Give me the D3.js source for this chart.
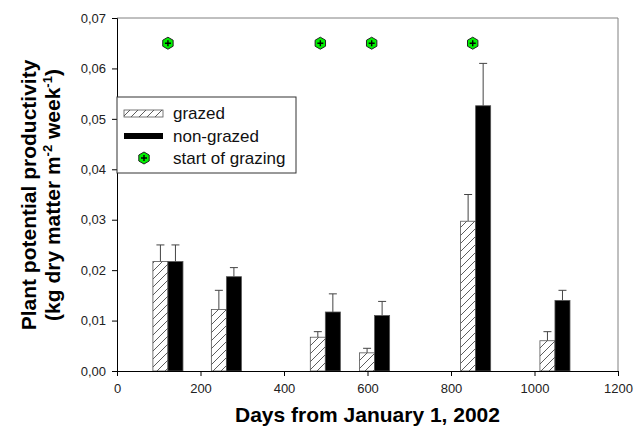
<!DOCTYPE html>
<html>
<head>
<meta charset="utf-8">
<script src="https://cdn.jsdelivr.net/npm/d3@7"></script>
<style>
  body { margin: 0; background: #fff; }
  text { font-family: "Liberation Sans", Arial, sans-serif; }
</style>
</head>
<body>
<div id="chart"></div>
<script>
// Data
const days = [122, 262, 499, 617, 859, 1049];
const grazed = [0.0217, 0.0122, 0.0067, 0.0036, 0.0297, 0.0060];
const grazedErr = [0.0033, 0.0038, 0.0011, 0.0009, 0.0053, 0.0018];
const nonGrazed = [0.0217, 0.0187, 0.0117, 0.0110, 0.0526, 0.0140];
const nonGrazedErr = [0.0033, 0.0018, 0.0036, 0.0028, 0.0084, 0.0020];
const grazingStart = [122, 487, 610, 852];
const grazingY = 0.065;
const xTicks = [0, 200, 400, 600, 800, 1000, 1200];
const yTicks = [0, 0.01, 0.02, 0.03, 0.04, 0.05, 0.06, 0.07];

const width = 635, height = 427;
const margin = {top: 18, right: 17, bottom: 56, left: 117};
const barDays = 36;

const svg = d3.select("#chart")
    .append("svg")
    .attr("width", width)
    .attr("height", height);

const x = d3.scaleLinear().domain([0, 1200]).range([margin.left, width - margin.right]);
const y = d3.scaleLinear().domain([0, 0.07]).range([height - margin.bottom, margin.top]);

// hatch pattern for grazed bars
const defs = svg.append("defs");
const pat = defs.append("pattern")
    .attr("id", "hatch")
    .attr("patternUnits", "userSpaceOnUse")
    .attr("width", 8).attr("height", 8);
pat.append("rect").attr("width", 8).attr("height", 8).attr("fill", "#fff");
pat.append("path")
    .attr("d", "M-2,10 L10,-2 M-2,2 L2,-2 M6,10 L10,6")
    .attr("stroke", "#333").attr("stroke-width", 0.8);

// frame top and right (gray)
svg.append("line")
    .attr("x1", x(0)).attr("x2", x(1200))
    .attr("y1", y(0.07)).attr("y2", y(0.07))
    .attr("stroke", "#808080").attr("stroke-width", 1);
svg.append("line")
    .attr("x1", x(1200)).attr("x2", x(1200))
    .attr("y1", y(0.07)).attr("y2", y(0))
    .attr("stroke", "#808080").attr("stroke-width", 1);

// error bars (drawn behind bars, upward only)
function errorBars(vals, errs, offset) {
    const g = svg.append("g");
    vals.forEach(function(v, i) {
        const cx = x(days[i] + offset * barDays / 2);
        g.append("line")
            .attr("x1", cx).attr("x2", cx)
            .attr("y1", y(v)).attr("y2", y(v + errs[i]))
            .attr("stroke", "#444").attr("stroke-width", 1);
        g.append("line")
            .attr("x1", cx - 4).attr("x2", cx + 4)
            .attr("y1", y(v + errs[i])).attr("y2", y(v + errs[i]))
            .attr("stroke", "#444").attr("stroke-width", 1);
    });
}
errorBars(grazed, grazedErr, -1);
errorBars(nonGrazed, nonGrazedErr, 1);

// bars
svg.append("g").selectAll("rect")
    .data(grazed)
    .join("rect")
    .attr("x", (d, i) => x(days[i] - barDays))
    .attr("y", d => y(d))
    .attr("width", (d, i) => x(days[i]) - x(days[i] - barDays))
    .attr("height", d => y(0) - y(d))
    .attr("fill", "url(#hatch)")
    .attr("stroke", "#555").attr("stroke-width", 0.8);

svg.append("g").selectAll("rect")
    .data(nonGrazed)
    .join("rect")
    .attr("x", (d, i) => x(days[i]))
    .attr("y", d => y(d))
    .attr("width", (d, i) => x(days[i] + barDays) - x(days[i]))
    .attr("height", d => y(0) - y(d))
    .attr("fill", "#000")
    .attr("stroke", "#555").attr("stroke-width", 0.8);

// grazing markers
function marker(g, cx, cy) {
    const r = 6;
    const pts = d3.range(6).map(k => {
        const a = Math.PI / 6 + k * Math.PI / 3;
        return [cx + r * Math.cos(a), cy + r * Math.sin(a)];
    });
    g.append("polygon")
        .attr("points", pts.map(p => p.join(",")).join(" "))
        .attr("fill", "#00f000").attr("stroke", "#222").attr("stroke-width", 1);
    g.append("path")
        .attr("d", `M${cx - 3},${cy} H${cx + 3} M${cx},${cy - 3} V${cy + 3}`)
        .attr("stroke", "#000").attr("stroke-width", 1.4);
}
const mg = svg.append("g");
grazingStart.forEach(d => marker(mg, x(d), y(grazingY)));

// axes
const xAxis = svg.append("g")
    .attr("transform", `translate(0, ${y(0)})`)
    .call(d3.axisBottom(x).tickValues(xTicks).tickSize(5).tickPadding(8).tickFormat(d3.format("d")));
const yAxis = svg.append("g")
    .attr("transform", `translate(${x(0)}, 0)`)
    .call(d3.axisLeft(y).tickValues(yTicks).tickSize(5).tickPadding(6)
        .tickFormat(d => d3.format(".2f")(d).replace(".", ",")));
[xAxis, yAxis].forEach(a => {
    a.select(".domain").attr("stroke", "#000");
    a.selectAll(".tick line").attr("stroke", "#000");
    a.selectAll(".tick text").attr("fill", "#222").style("font-size", "13px")
        .style("font-family", "'Liberation Sans', Arial, sans-serif");
});

// axis titles
svg.append("text")
    .attr("x", x(600)).attr("y", 422)
    .attr("text-anchor", "middle")
    .style("font-size", "21px").style("font-weight", "bold")
    .text("Days from January 1, 2002");

const yt = svg.append("text")
    .attr("transform", "translate(36, 195) rotate(-90)")
    .attr("text-anchor", "middle")
    .style("font-size", "21px").style("font-weight", "bold");
yt.append("tspan").attr("x", 0).attr("y", 0).text("Plant potential productivity");
const l2 = yt.append("tspan").attr("x", 0).attr("y", 24);
l2.append("tspan").text("(kg dry matter m");
l2.append("tspan").attr("dy", -8).style("font-size", "13px").text("-2");
l2.append("tspan").attr("dy", 8).text(" week");
l2.append("tspan").attr("dy", -8).style("font-size", "13px").text("-1");
l2.append("tspan").attr("dy", 8).text(")");

// legend
const lg = svg.append("g");
lg.append("rect")
    .attr("x", 117).attr("y", 97).attr("width", 179).attr("height", 76)
    .attr("fill", "#fff").attr("stroke", "#333").attr("stroke-width", 1);
lg.append("rect")
    .attr("x", 124).attr("y", 110).attr("width", 39).attr("height", 7)
    .attr("fill", "url(#hatch)").attr("stroke", "#555").attr("stroke-width", 0.8);
lg.append("rect")
    .attr("x", 124).attr("y", 133).attr("width", 39).attr("height", 6)
    .attr("fill", "#000");
marker(lg, 144, 158);
const legendItems = [["grazed", 119], ["non-grazed", 142], ["start of grazing", 164]];
lg.selectAll("text.lbl")
    .data(legendItems)
    .join("text")
    .attr("class", "lbl")
    .attr("x", 173).attr("y", d => d[1])
    .style("font-size", "17px").attr("fill", "#111")
    .text(d => d[0]);
</script>
</body>
</html>
